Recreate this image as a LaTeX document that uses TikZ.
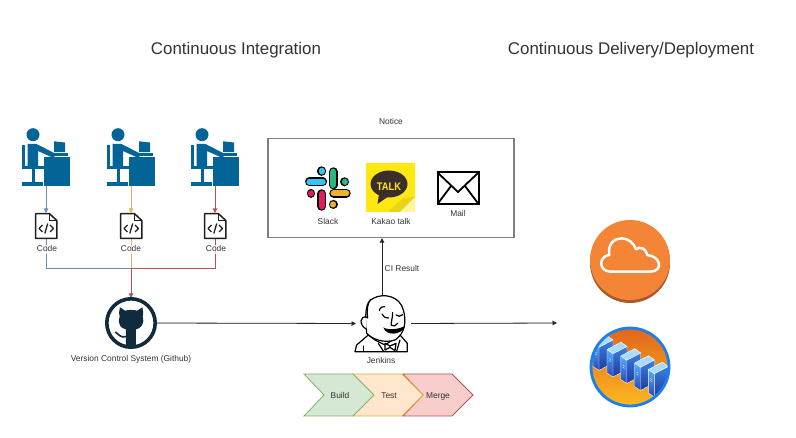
\documentclass[tikz,border=0pt]{standalone}
\usepackage{fontspec}
\setmainfont{Liberation Sans}
\usetikzlibrary{arrows.meta}
\definecolor{lblue}{HTML}{6C8EBF}
\definecolor{lyellow}{HTML}{D6B656}
\definecolor{lred}{HTML}{B85450}
\definecolor{person}{HTML}{036497}
\definecolor{ink}{HTML}{333333}
\definecolor{ghub}{HTML}{0F2B3D}
\definecolor{kyellow}{HTML}{FFE812}
\definecolor{kfold}{HTML}{E9D41A}
\definecolor{kpale}{HTML}{FFF59A}
\definecolor{kdark}{HTML}{3A2E2B}
\definecolor{gfill}{HTML}{D5E8D4}\definecolor{gline}{HTML}{82B366}
\definecolor{yfill}{HTML}{FFE6CC}\definecolor{yline}{HTML}{E3B040}
\definecolor{rfill}{HTML}{F8CECC}\definecolor{rline}{HTML}{B85450}
\definecolor{awsor}{HTML}{F58536}\definecolor{awssh}{HTML}{A85A2A}
\definecolor{sktop}{HTML}{E0641E}\definecolor{skbot}{HTML}{FDBA1F}
\definecolor{ringb}{HTML}{1A80F0}
\definecolor{srvhi}{HTML}{52B0FF}\definecolor{srvlo}{HTML}{2A45B0}
\definecolor{srvmd}{HTML}{3C7FE6}\definecolor{srvdk}{HTML}{1F3A9C}
\definecolor{srvtp}{HTML}{A8DCFF}
\definecolor{slc}{HTML}{36C5F0}\definecolor{slg}{HTML}{2EB67D}
\definecolor{slr}{HTML}{E01E5A}\definecolor{sly}{HTML}{ECB22E}
\tikzset{
  title/.style={font=\fontsize{16.9}{19}\selectfont,text=ink,inner sep=0},
  small/.style={font=\fontsize{8.4}{10}\selectfont,text=ink,inner sep=0.5,text height=6.2,text depth=1.8,yshift=-0.7pt},
  halo/.style={small,fill=white,fill opacity=.75,text opacity=1},
  anchorbox/.style={inner sep=0,outer sep=0,minimum width=#1},
  wire/.style={line width=.8pt,-{Triangle[length=4.5pt,width=4.5pt]}},
  plainwire/.style={line width=.8pt},
  chev/.style={line width=.8pt},
}
% slack pill: #1 colour, #2 path ends
\newcommand{\slackbar}[3]{%
  \draw[black,line width=8.8pt,line cap=round] #2 -- #3;
  \draw[#1,line width=6.2pt,line cap=round] #2 -- #3;}
% person at desk; #1 = left x
\newcommand{\personicon}[1]{%
 \begin{scope}[shift={(#1,128)},fill=person,draw=none]
  \fill (11,6.7) circle (6.5);
  \fill (5.5,16) -- (14.5,16) -- (34,26) -- (31.5,30) -- (16,23) -- (16,38.5) -- (5.5,38.5) -- cycle;
  \fill (0,17) rectangle (3.2,41.2);
  \fill (0,38.5) rectangle (22,41.5);
  \fill (9.5,41) rectangle (12.5,55);
  \fill (0,54.5) rectangle (21,57.8);
  \fill (22,29) rectangle (48,58);
  \fill (32,13.3) -- (43,14.5) -- (43,24.2) -- (32,24.2) -- cycle;
  \fill (30.5,25.3) rectangle (46,27.6);
 \end{scope}}
% source file; #1 = left x
\newcommand{\docicon}[1]{%
 \begin{scope}[shift={(#1,213)},line width=1.5pt,draw=black!88,line join=round]
  \draw (0.7,0.7) -- (14.5,0.7) -- (21.8,7.5) -- (21.8,25.5) -- (0.7,25.5) -- cycle;
  \draw[line width=1pt] (14.5,0.7) -- (14.5,7.5) -- (21.8,7.5);
  \draw[line width=1.3pt] (7.5,12) -- (4,15.5) -- (7.5,19);
  \draw[line width=1.3pt] (15,12) -- (18.5,15.5) -- (15,19);
  \draw[line width=1.3pt] (12.7,10.5) -- (9.8,20.5);
 \end{scope}}
% one server; #1,#2 = position
\newcommand{\serverbox}[2]{%
 \begin{scope}[shift={(#1,#2)}]
  \shade[top color=srvhi,bottom color=srvlo] (0,0) -- (6,4.3) -- (6,27.5) -- (0,23.5) -- cycle;
  \shade[top color=srvmd,bottom color=srvdk] (6,4.3) -- (20,-3) -- (20,20) -- (6,27.5) -- cycle;
  \fill[srvtp] (0,0) -- (14,-7.3) -- (20,-3) -- (6,4.3) -- cycle;
  \draw[white,line width=.4pt] (0,0) -- (14,-7.3) -- (20,-3) -- (20,20) -- (6,27.5) -- (0,23.5) -- cycle (0,0) -- (6,4.3) -- (20,-3) (6,4.3) -- (6,27.5);
  \draw[white,line width=.3pt] (2,9) -- (4,10.2) (2,11) -- (4,12.2);
 \end{scope}}
\begin{document}
\begin{tikzpicture}[x=1pt,y=-1pt]
\useasboundingbox (0,0) rectangle (796,438);
\fill[white] (0,0) rectangle (796,438);

% ---- titles
\node[title] (t1) at (236,50) {Continuous Integration};
\node[title] (t2) at (631,50) {Continuous Delivery/Deployment};

% ---- anchors for icons
\node[anchorbox=48,minimum height=58] (p1) at (46,157) {};
\node[anchorbox=48,minimum height=58] (p2) at (131,157) {};
\node[anchorbox=48,minimum height=58] (p3) at (215,157) {};
\node[anchorbox=22,minimum height=26] (d1) at (46,226) {};
\node[anchorbox=22,minimum height=26] (d2) at (131,226) {};
\node[anchorbox=22,minimum height=26] (d3) at (215,226) {};
\coordinate (bus) at (131,268);
\node[anchorbox=50,minimum height=50,circle] (gh) at (131,323) {};
\node[anchorbox=52,minimum height=57] (jk) at (382,323.5) {};
\coordinate (dep) at (557,323);
\node[draw=black!50,line width=1.3pt,inner sep=0,minimum width=246,minimum height=99] (box) at (391,188) {};

% ---- connectors
\draw[wire,draw=lblue,fill=lblue] (p1.south) -- (d1.north);
\draw[wire,draw=lyellow,fill=lyellow] (p2.south) -- (d2.north);
\draw[wire,draw=lred,fill=lred] (p3.south) -- (d3.north);
\draw[plainwire,draw=lblue] (d1.south) |- (bus);
\draw[plainwire,draw=lred] (d3.south) |- (bus);
\draw[plainwire,draw=lyellow] (d2.south) -- (bus);
\draw[wire,draw=lred,fill=lred] (bus) -- (gh.north);
\draw[wire,draw=black!85,fill=black] (gh.east) -- (jk.west);
\draw[wire,draw=black!85,fill=black] (jk.north) -- (box.south -| jk.north);
\draw[wire,draw=black!85,fill=black] (jk.east) ++(3,0) -- (dep);

% ---- people and files
\personicon{22}\personicon{107}\personicon{191}
\docicon{35}\docicon{120}\docicon{204}
\node[halo] (c1) at (47,249) {Code};
\node[halo] (c2) at (131,249) {Code};
\node[halo] (c3) at (216,249) {Code};

% ---- GitHub
\draw[ghub,line width=3.6pt,fill=white] (131,323) circle (24.2);
\begin{scope}[shift={(100,294)},x=.3333pt,y=-.3333pt,fill=ghub]
 \clip (93,87) circle (70);
 \fill (60,40) -- (75,50) .. controls (85,47) and (100,47) .. (112,50) -- (127,40)
   .. controls (130,55) and (131,60) .. (128,68)
   .. controls (135,90) and (122,104) .. (108,106) -- (108,160) -- (78,160) -- (78,106)
   .. controls (62,104) and (52,90) .. (59,68) .. controls (56,60) and (57,55) .. (60,40) -- cycle;
 \draw[ghub,line width=1.6pt] (46,114) .. controls (56,120) and (60,132) .. (78,128);
\end{scope}
\node[small] (ghl) at (131,359) {Version Control System (Github)};

% ---- Jenkins
\begin{scope}[shift={(350,290)},x=.3333pt,y=-.3333pt,line width=1.2pt,draw=black,line join=round,line cap=round]
 \draw[fill=white] (15,185) -- (20,165) -- (55,135) -- (75,150) -- (105,165) -- (150,135) -- (172,160) -- (172,185) -- cycle;
 \draw[fill=white] (50,130) .. controls (45,70) and (45,35) .. (70,25)
   .. controls (100,8) and (150,18) .. (160,60)
   .. controls (170,95) and (165,130) .. (135,150)
   .. controls (105,160) and (70,150) .. (50,130) -- cycle;
 \draw[fill=white] (50,82) .. controls (30,75) and (25,105) .. (50,118);
 \draw (62,28) .. controls (52,40) and (50,60) .. (53,84);
 \draw (88,62) .. controls (90,52) and (98,48) .. (104,50);
 \draw (96,72) .. controls (103,82) and (108,86) .. (116,84);
 \draw (138,75) .. controls (145,80) and (152,80) .. (158,74);
 \draw (128,68) .. controls (128,85) and (122,98) .. (124,106) .. controls (130,110) and (138,108) .. (143,100);
 \fill (100,112) .. controls (115,122) and (145,118) .. (165,108) .. controls (160,128) and (125,140) .. (105,122) -- cycle;
 \draw (85,160) -- (100,183) (150,150) -- (140,183);
 \draw[fill=white] (120,168) -- (105,160) -- (105,180) -- (120,172) -- (135,182) -- (138,160) -- cycle;
 \draw (40,168) -- (40,183);
\end{scope}
\node[small] (jkl) at (381,361) {Jenkins};
\node[small] (ci) at (402,269) {CI Result};

% ---- chevrons
\filldraw[draw=rline,fill=rfill,chev] (403,374) -- (452,374) -- (473,395) -- (452,416) -- (403,416) -- (423,395) -- cycle;
\filldraw[draw=yline,fill=yfill,chev] (353,374) -- (402,374) -- (423,395) -- (402,416) -- (353,416) -- (373,395) -- cycle;
\filldraw[draw=gline,fill=gfill,chev] (304,374) -- (353,374) -- (374,395) -- (353,416) -- (304,416) -- (324,395) -- cycle;
\node[small] (b1) at (340,395.5) {Build};
\node[small] (b2) at (389,395.5) {Test};
\node[small] (b3) at (438,395.5) {Merge};

% ---- notice contents
\node[small] (nt) at (391,122) {Notice};
\begin{scope}[shift={(300,160)}]
 \slackbar{slc}{(9.4,21.7)}{(22.7,21.7)}
 \slackbar{slc}{(21.7,10.7)}{(21.7,11.5)}
 \slackbar{slg}{(33.3,11.7)}{(33.3,25)}
 \slackbar{slg}{(44.7,21.7)}{(44.7,21.9)}
 \slackbar{slr}{(21.7,33.7)}{(21.7,46.3)}
 \slackbar{slr}{(11,33.3)}{(11,33.5)}
 \slackbar{sly}{(33.7,33.3)}{(46.3,33.3)}
 \slackbar{sly}{(33.3,44.3)}{(33.3,44.5)}
\end{scope}
\node[small] (sl) at (328,222) {Slack};

\fill[kyellow] (366,163) -- (415,163) -- (415,197) -- (400,212) -- (366,212) -- cycle;
\fill[kfold] (388,212) -- (403,198) -- (415,197) -- (400,212) -- cycle;
\fill[kpale] (415,197) -- (415,212) -- (400,212) -- cycle;
\fill[kdark] (389,184) ellipse (18.5 and 13.5);
\fill[kdark] (379,194) -- (377.5,204) -- (389,196) -- cycle;
\node[inner sep=0,text=kyellow,xscale=.85,font=\fontsize{11}{12}\bfseries\selectfont] (talk) at (389,186.5) {TALK};
\node[small] (kk) at (391,221.5) {Kakao talk};

\draw[black,line width=2pt,fill=white,line join=miter] (437.5,172.5) rectangle (478.5,204);
\draw[black,line width=1.8pt] (437.5,172.5) -- (458,192) -- (478.5,172.5);
\draw[black,line width=1.8pt] (437.5,204) -- (451,186) (478.5,204) -- (465,186);
\node[small] (ml) at (458,214) {Mail};

% ---- cloud
\fill[awssh] (630,263) circle (40);
\fill[awsor] (630,260) circle (40);
\begin{scope}[shift={(570,210)},x=.3333pt,y=-.3333pt]
 \draw[white,line width=2.5pt,line join=round] (122,185)
   .. controls (85,185) and (85,138) .. (118,135)
   .. controls (112,100) and (135,85) .. (155,85)
   .. controls (175,85) and (192,100) .. (198,118)
   .. controls (210,108) and (228,115) .. (232,135)
   .. controls (275,140) and (280,185) .. (240,185) -- cycle;
\end{scope}

% ---- server farm
\begin{scope}
 \clip (630,367) circle (39);
 \shade[top color=sktop,bottom color=skbot] (590,327) rectangle (670,407);
 \serverbox{593}{343}
 \serverbox{607}{349.5}
 \serverbox{620.7}{356}
 \serverbox{634.5}{363}
 \serverbox{648.3}{369.5}
\end{scope}
\draw[ringb,line width=2.8pt] (630,367) circle (39);
\end{tikzpicture}
\end{document}
